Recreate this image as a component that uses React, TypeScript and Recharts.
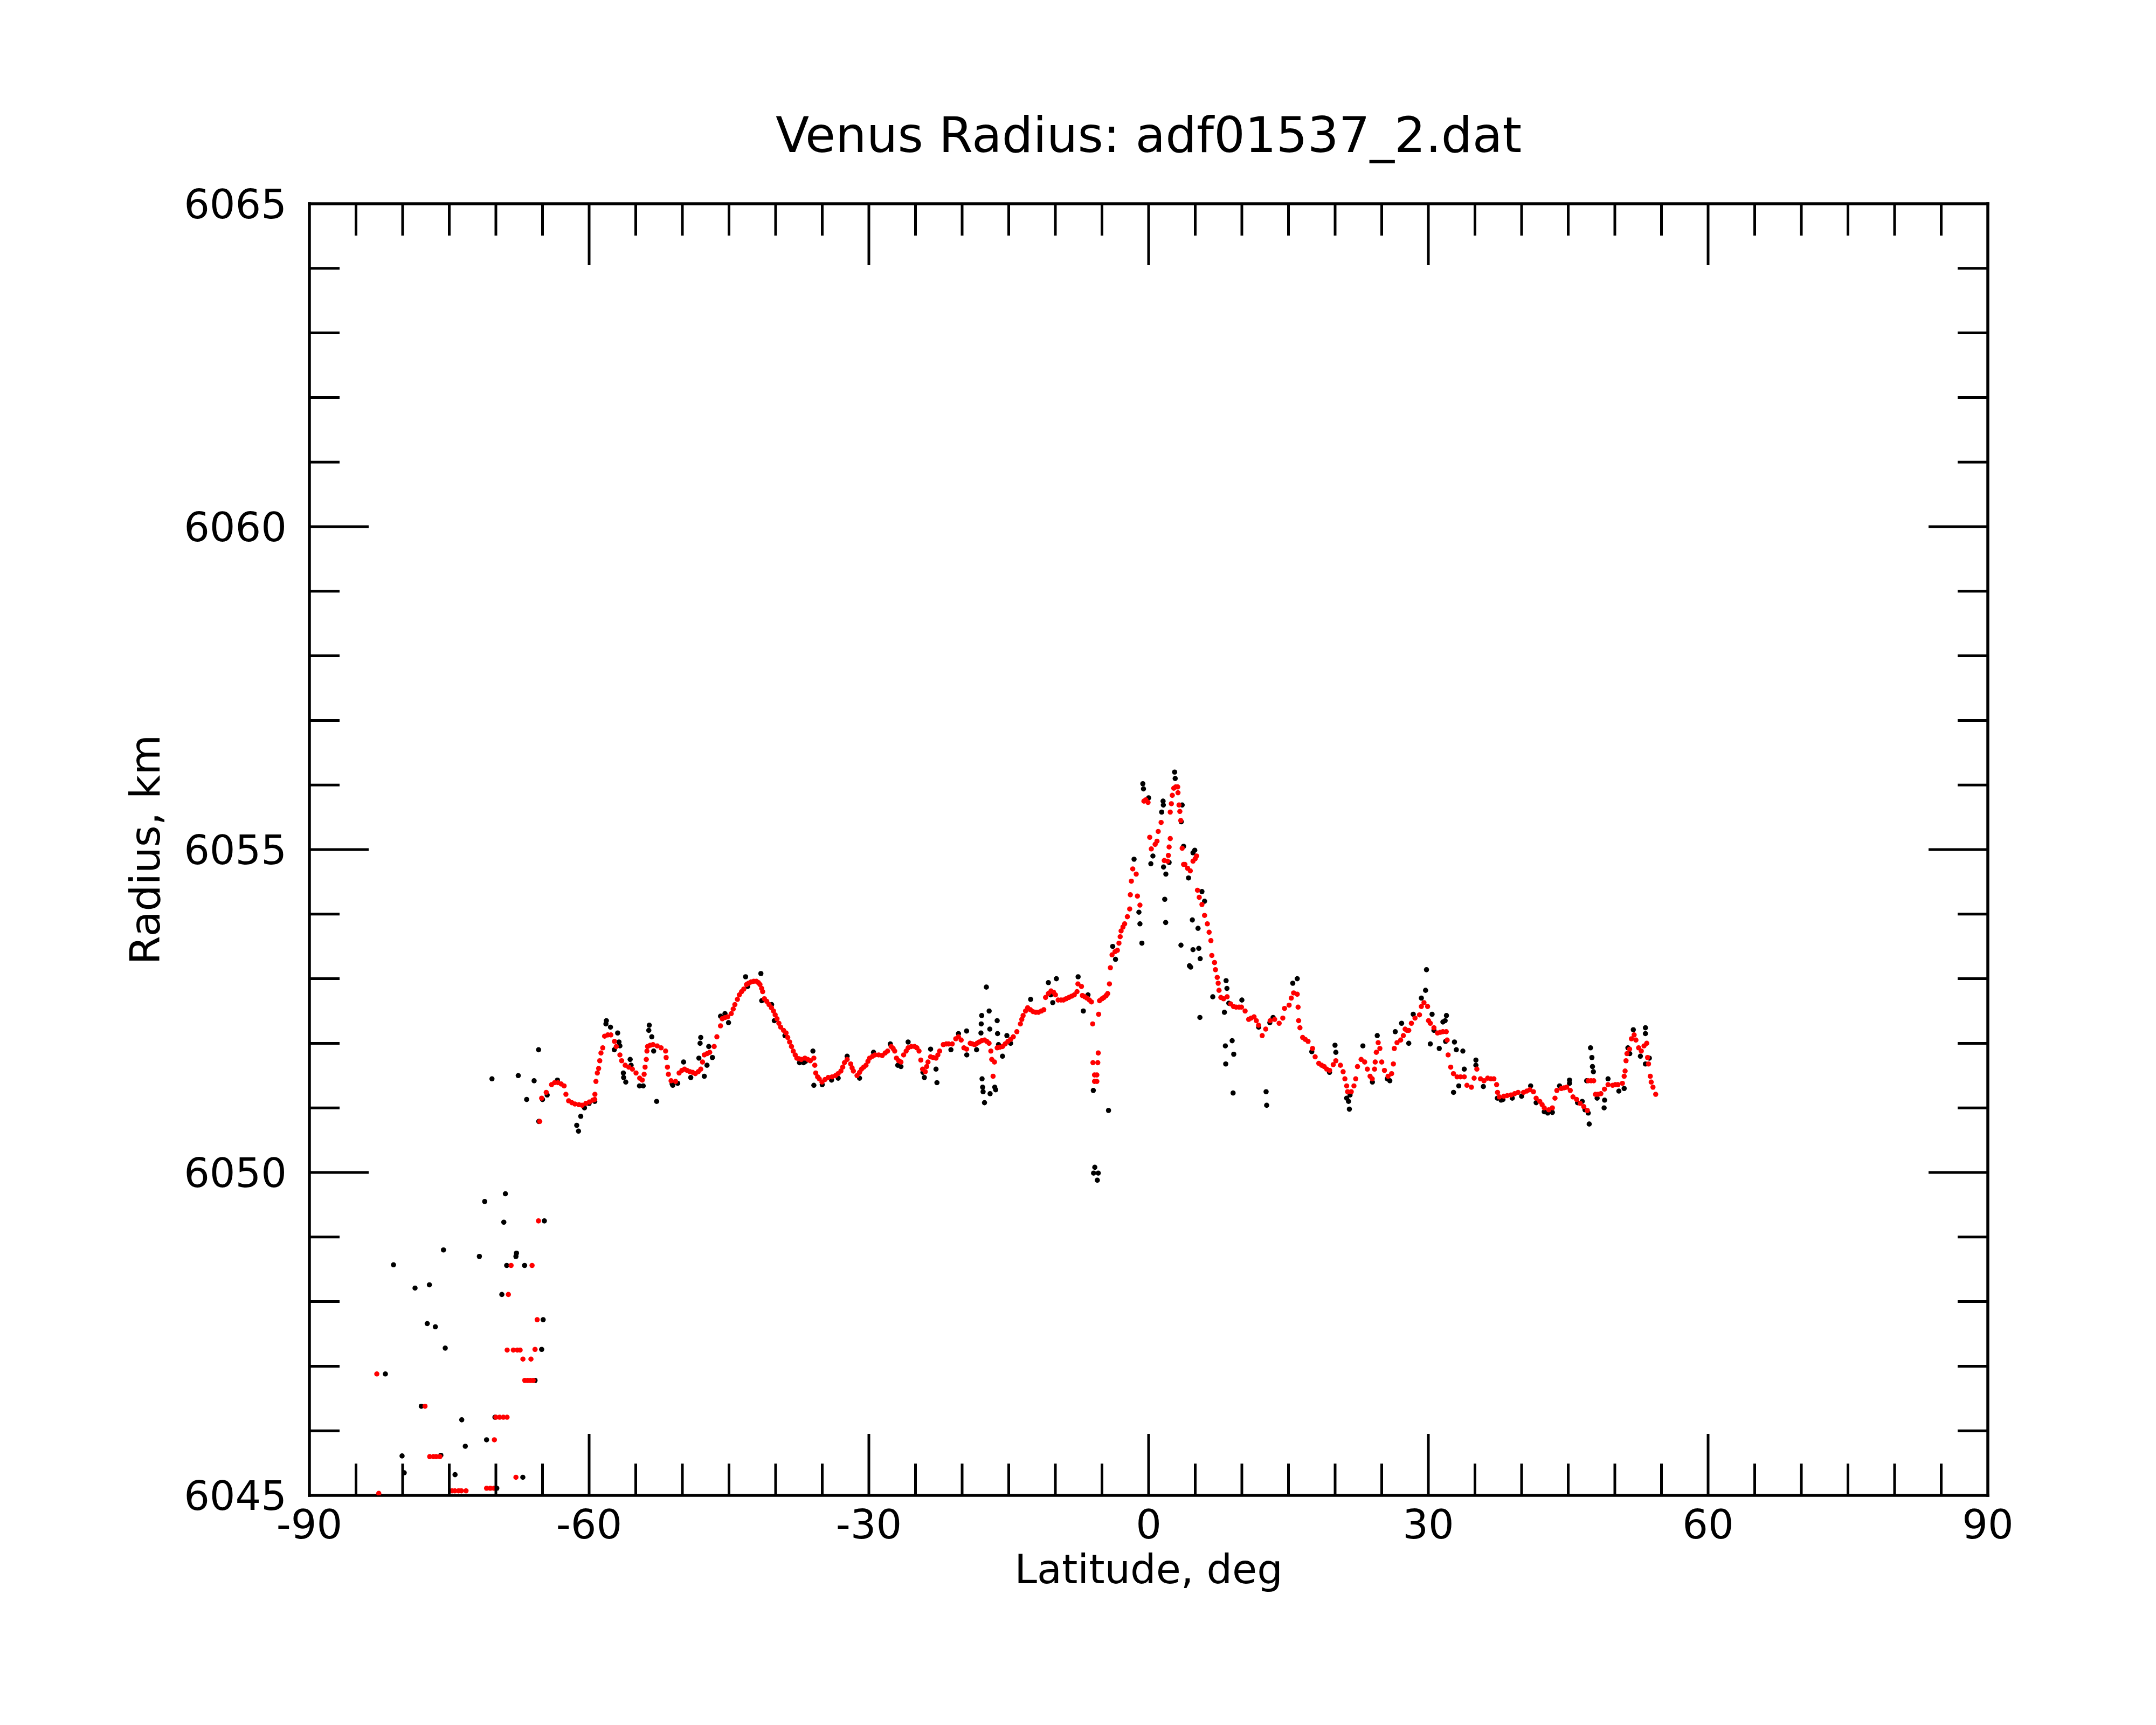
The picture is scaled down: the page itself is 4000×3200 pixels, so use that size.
import React from "react";
import { ScatterChart, Scatter, XAxis, YAxis } from "recharts";

// latitude, radius pairs
const rawPoints: [number, number][] = [
  [-81.85, 6046.88], [-80.98, 6048.57], [-80.06, 6045.61], [-79.83, 6045.35],
  [-78.67, 6048.21], [-78.0, 6046.38], [-77.36, 6047.66], [-77.13, 6048.26],
  [-76.49, 6047.61], [-75.9, 6045.62], [-75.62, 6048.8], [-75.43, 6047.28],
  [-74.38, 6045.32], [-73.66, 6046.17], [-73.28, 6045.76], [-71.77, 6048.7],
  [-71.2, 6049.55], [-71.0, 6045.86], [-70.42, 6051.45], [-70.1, 6046.21],
  [-69.9, 6045.11], [-69.36, 6048.11], [-69.15, 6049.23], [-68.98, 6049.67],
  [-68.84, 6048.56], [-67.85, 6048.7], [-67.79, 6048.75], [-67.6, 6051.5],
  [-67.11, 6045.28], [-66.92, 6048.56], [-66.7, 6051.13], [-65.9, 6051.42],
  [-65.8, 6046.78], [-65.42, 6051.9], [-65.4, 6050.79], [-65.09, 6047.26],
  [-64.93, 6047.72], [-64.8, 6049.25],
  [-65.0, 6051.13], [-64.5, 6051.2], [-63.4, 6051.43], [-61.33, 6050.73],
  [-61.14, 6050.64], [-60.9, 6050.87], [-60.5, 6051.0], [-60.0, 6051.07],
  [-59.4, 6051.1], [-58.2, 6052.3], [-58.15, 6052.35], [-57.71, 6052.25],
  [-57.3, 6051.9], [-56.94, 6052.16], [-56.8, 6052.02], [-56.7, 6051.96],
  [-56.33, 6051.54], [-56.3, 6051.47], [-56.07, 6051.4], [-55.6, 6051.75],
  [-55.5, 6051.66], [-54.6, 6051.34], [-54.2, 6051.34], [-53.6, 6052.2],
  [-53.55, 6052.28], [-53.28, 6052.1], [-53.08, 6051.88], [-52.76, 6051.1],
  [-51.1, 6051.37], [-51.03, 6051.35], [-50.5, 6051.38], [-49.87, 6051.71],
  [-49.1, 6051.47], [-48.23, 6051.77], [-48.1, 6052.0], [-48.03, 6052.09],
  [-47.65, 6051.49], [-47.36, 6051.66], [-47.17, 6051.95], [-46.78, 6051.78],
  [-45.91, 6052.42], [-45.43, 6052.46], [-45.05, 6052.32], [-43.22, 6053.03],
  [-43.0, 6052.88], [-41.58, 6053.08], [-41.49, 6052.66], [-40.43, 6052.6],
  [-40.14, 6052.35], [-39.0, 6052.12], [-37.44, 6051.7], [-37.0, 6051.7],
  [-36.8, 6051.72], [-36.0, 6051.88], [-35.9, 6051.35], [-35.0, 6051.36],
  [-34.0, 6051.43], [-33.29, 6051.46], [-32.33, 6051.8], [-31.0, 6051.46],
  [-29.5, 6051.86], [-27.7, 6051.99], [-26.9, 6051.66], [-26.56, 6051.64],
  [-25.79, 6052.02], [-24.2, 6051.55], [-24.05, 6051.47], [-23.38, 6051.91],
  [-22.8, 6051.6], [-22.7, 6051.39], [-21.2, 6051.9], [-20.39, 6052.15],
  [-19.52, 6052.19], [-19.5, 6051.82], [-18.45, 6051.9], [-17.98, 6052.16],
  [-17.95, 6052.3], [-17.9, 6052.43], [-17.86, 6051.45], [-17.8, 6051.32],
  [-17.75, 6051.25], [-17.6, 6051.08], [-17.4, 6052.87], [-17.1, 6052.5],
  [-17.03, 6052.22], [-17.0, 6051.22], [-16.5, 6051.32], [-16.4, 6051.28],
  [-16.24, 6052.35], [-16.2, 6052.15], [-16.1, 6051.98], [-15.67, 6051.8],
  [-15.2, 6052.12], [-14.8, 6052.0], [-12.65, 6052.68], [-10.75, 6052.94],
  [-10.5, 6052.75], [-10.28, 6052.63], [-9.89, 6053.0], [-7.56, 6053.03],
  [-7.0, 6052.5], [-6.5, 6052.75], [-5.93, 6051.27], [-5.9, 6049.99],
  [-5.77, 6050.08], [-5.5, 6049.88], [-5.4, 6049.99], [-4.3, 6050.96],
  [-3.85, 6053.5], [-3.55, 6053.3], [-1.56, 6054.85], [-1.04, 6054.03],
  [-0.93, 6053.85], [-0.72, 6053.55], [-0.62, 6056.02], [-0.55, 6055.94],
  [0.0, 6055.8], [0.24, 6054.78], [0.46, 6054.9], [1.4, 6055.58],
  [1.55, 6055.75], [1.58, 6055.69], [1.6, 6054.73], [1.73, 6054.23],
  [1.83, 6053.87], [1.85, 6054.62], [2.2, 6054.8], [2.79, 6056.2],
  [2.85, 6056.1], [3.47, 6053.52], [3.5, 6055.43], [3.6, 6055.69],
  [3.75, 6055.05], [4.28, 6054.56], [4.38, 6053.2], [4.51, 6053.18],
  [4.69, 6053.91], [4.76, 6053.45], [4.76, 6054.95], [4.95, 6054.99],
  [5.3, 6053.78], [5.38, 6053.47], [5.5, 6052.4], [5.53, 6053.31],
  [5.72, 6054.35], [6.0, 6054.2], [6.88, 6052.72], [8.13, 6052.48],
  [8.23, 6051.96], [8.27, 6051.68], [8.31, 6052.97], [8.4, 6052.85],
  [8.6, 6052.62], [8.96, 6052.04], [9.06, 6051.23], [9.13, 6051.83],
  [10.0, 6052.67], [11.8, 6052.25], [12.6, 6051.25], [12.66, 6051.04],
  [13.0, 6052.32], [13.35, 6052.4], [15.46, 6052.93], [15.94, 6053.0],
  [17.5, 6051.87], [19.4, 6051.55], [19.99, 6051.97], [20.08, 6051.86],
  [21.24, 6051.15], [21.44, 6051.1], [21.53, 6050.98], [21.6, 6051.2],
  [22.98, 6051.96], [24.0, 6051.4], [24.52, 6052.12], [25.6, 6051.45],
  [25.87, 6051.42], [26.45, 6052.18], [27.13, 6052.31], [27.9, 6052.0],
  [28.38, 6052.45], [29.25, 6052.7], [29.7, 6052.82], [29.8, 6053.14],
  [30.21, 6051.99], [30.4, 6052.45], [30.6, 6052.2], [31.17, 6051.92],
  [31.56, 6052.33], [31.8, 6052.35], [31.85, 6052.03], [31.94, 6052.43],
  [32.7, 6051.24], [32.8, 6052.02], [33.0, 6051.9], [33.26, 6051.34],
  [33.7, 6051.88], [33.85, 6051.6], [35.1, 6051.74], [35.1, 6051.66],
  [35.9, 6051.33], [37.4, 6051.15], [37.8, 6051.12], [38.0, 6051.13],
  [39.0, 6051.15], [40.0, 6051.18], [40.97, 6051.34], [41.56, 6051.08],
  [42.43, 6050.94], [42.8, 6050.92], [43.3, 6050.93], [44.07, 6051.34],
  [45.14, 6051.43], [45.14, 6051.38], [46.0, 6051.08], [46.5, 6051.1],
  [46.8, 6050.97], [46.98, 6051.42], [47.15, 6050.92], [47.25, 6050.75],
  [47.39, 6051.93], [47.54, 6051.78], [47.6, 6051.64], [47.7, 6051.56],
  [48.1, 6051.15], [48.85, 6051.0], [48.9, 6051.12], [49.27, 6051.45],
  [50.43, 6051.26], [51.0, 6051.3], [51.4, 6051.93], [51.6, 6051.84],
  [51.98, 6052.21], [52.74, 6051.8], [53.28, 6052.24], [53.28, 6052.15],
  [53.28, 6051.68], [53.7, 6051.77],
];

const smoothedPoints: [number, number][] = [
  [-82.77, 6046.88], [-82.56, 6045.03], [-77.6, 6046.38], [-77.1, 6045.6],
  [-76.7, 6045.6], [-76.4, 6045.6], [-76.0, 6045.6], [-74.7, 6045.07],
  [-74.4, 6045.07], [-74.0, 6045.07], [-73.7, 6045.07], [-73.2, 6045.07],
  [-71.0, 6045.11], [-70.6, 6045.11], [-70.2, 6045.11], [-70.16, 6045.86],
  [-70.0, 6046.21], [-69.6, 6046.21], [-69.2, 6046.21], [-68.8, 6046.21],
  [-68.79, 6047.25], [-68.66, 6048.11], [-68.37, 6048.56], [-68.13, 6047.25],
  [-67.85, 6045.28], [-67.7, 6047.25], [-67.4, 6047.25], [-67.1, 6047.11],
  [-66.9, 6046.78], [-66.6, 6046.78], [-66.3, 6046.78], [-66.24, 6047.11],
  [-66.12, 6048.56], [-66.0, 6046.78], [-65.8, 6047.26], [-65.57, 6047.72],
  [-65.43, 6049.25], [-65.3, 6050.79],
  [-65.09, 6051.15], [-64.6, 6051.24], [-64.03, 6051.36], [-63.7, 6051.39],
  [-63.35, 6051.39], [-63.0, 6051.37], [-62.68, 6051.34], [-62.49, 6051.21],
  [-62.2, 6051.11], [-61.85, 6051.08], [-61.52, 6051.06], [-61.1, 6051.05],
  [-60.75, 6051.04], [-60.35, 6051.07], [-59.98, 6051.09], [-59.6, 6051.12],
  [-59.4, 6051.13], [-59.38, 6051.21], [-59.27, 6051.41], [-59.12, 6051.54],
  [-58.98, 6051.61], [-58.86, 6051.73], [-58.73, 6051.85], [-58.54, 6051.93],
  [-58.34, 6052.11], [-58.0, 6052.13], [-57.67, 6052.13], [-57.28, 6052.03],
  [-57.09, 6051.95], [-56.7, 6051.82], [-56.51, 6051.73], [-56.13, 6051.66],
  [-55.75, 6051.63], [-55.36, 6051.6], [-54.97, 6051.54], [-54.58, 6051.46],
  [-54.3, 6051.43], [-54.1, 6051.52], [-54.0, 6051.63], [-53.87, 6051.75],
  [-53.8, 6051.88], [-53.73, 6051.95], [-53.45, 6051.97], [-53.15, 6051.98],
  [-52.7, 6051.96], [-52.28, 6051.93], [-51.8, 6051.88], [-51.74, 6051.78],
  [-51.6, 6051.63], [-51.5, 6051.52], [-51.21, 6051.42], [-50.73, 6051.41],
  [-50.35, 6051.54], [-50.05, 6051.58], [-49.77, 6051.6], [-49.5, 6051.58],
  [-49.19, 6051.56], [-48.9, 6051.55], [-48.61, 6051.53], [-48.3, 6051.56],
  [-48.03, 6051.6], [-47.84, 6051.71], [-47.65, 6051.82], [-47.35, 6051.84],
  [-47.07, 6051.86], [-46.59, 6051.95], [-46.3, 6052.1], [-45.91, 6052.27],
  [-45.72, 6052.38], [-45.4, 6052.4], [-45.14, 6052.41], [-44.76, 6052.46],
  [-44.55, 6052.53], [-44.37, 6052.6], [-44.1, 6052.68], [-43.89, 6052.75],
  [-43.65, 6052.8], [-43.41, 6052.84], [-43.12, 6052.91], [-42.9, 6052.93],
  [-42.64, 6052.95], [-42.35, 6052.96], [-42.06, 6052.96], [-41.85, 6052.94],
  [-41.68, 6052.91], [-41.5, 6052.85], [-41.39, 6052.8], [-41.2, 6052.69],
  [-40.95, 6052.65], [-40.71, 6052.6], [-40.45, 6052.55], [-40.23, 6052.5],
  [-40.05, 6052.44], [-39.85, 6052.38], [-39.65, 6052.31], [-39.46, 6052.25],
  [-39.15, 6052.2], [-38.88, 6052.16], [-38.7, 6052.09], [-38.5, 6052.02],
  [-38.3, 6051.95], [-38.11, 6051.88], [-37.9, 6051.82], [-37.73, 6051.77],
  [-37.5, 6051.76], [-37.25, 6051.75], [-36.86, 6051.77], [-36.55, 6051.75],
  [-36.28, 6051.73], [-35.9, 6051.77], [-35.8, 6051.66], [-35.7, 6051.54],
  [-35.5, 6051.48], [-35.32, 6051.45], [-35.03, 6051.4], [-34.7, 6051.44],
  [-34.36, 6051.47], [-33.95, 6051.48], [-33.58, 6051.5], [-33.3, 6051.53],
  [-33.0, 6051.57], [-32.8, 6051.63], [-32.62, 6051.7], [-32.33, 6051.75],
  [-31.95, 6051.68], [-31.8, 6051.62], [-31.66, 6051.57], [-31.27, 6051.5],
  [-31.0, 6051.55], [-30.79, 6051.6], [-30.55, 6051.63], [-30.31, 6051.66],
  [-30.1, 6051.72], [-29.92, 6051.77], [-29.6, 6051.8], [-29.34, 6051.82],
  [-28.95, 6051.82], [-28.57, 6051.81], [-28.25, 6051.85], [-27.99, 6051.88],
  [-27.61, 6051.95], [-27.4, 6051.92], [-27.23, 6051.88], [-27.04, 6051.77],
  [-26.8, 6051.73], [-26.56, 6051.71], [-26.27, 6051.82], [-26.0, 6051.88],
  [-25.79, 6051.93], [-25.45, 6051.95], [-25.1, 6051.95], [-24.85, 6051.93],
  [-24.62, 6051.88], [-24.43, 6051.74], [-24.24, 6051.6], [-23.95, 6051.56],
  [-23.8, 6051.64], [-23.66, 6051.71], [-23.38, 6051.79], [-23.1, 6051.78],
  [-22.8, 6051.77], [-22.6, 6051.82], [-22.41, 6051.88], [-22.02, 6051.98],
  [-21.7, 6051.99], [-21.45, 6051.99], [-21.06, 6051.99], [-20.68, 6052.07],
  [-20.39, 6052.1], [-20.1, 6052.05], [-19.81, 6051.93], [-19.52, 6051.91],
  [-19.13, 6052.0], [-18.9, 6051.99], [-18.65, 6051.98], [-18.4, 6052.0],
  [-18.17, 6052.02], [-17.9, 6052.04], [-17.59, 6052.05], [-17.35, 6052.03],
  [-17.11, 6052.0], [-16.92, 6051.88], [-16.82, 6051.75], [-16.68, 6051.49],
  [-16.53, 6051.71], [-16.24, 6051.93], [-15.95, 6051.94], [-15.67, 6051.95],
  [-15.38, 6051.99], [-15.09, 6052.03], [-14.8, 6052.06], [-14.51, 6052.1],
  [-14.13, 6052.18], [-13.75, 6052.3], [-13.6, 6052.37], [-13.46, 6052.43],
  [-13.2, 6052.5], [-12.97, 6052.55], [-12.68, 6052.52], [-12.39, 6052.49],
  [-12.1, 6052.48], [-11.81, 6052.48], [-11.5, 6052.5], [-11.24, 6052.52],
  [-11.05, 6052.71], [-10.75, 6052.77], [-10.47, 6052.81], [-10.2, 6052.79],
  [-9.99, 6052.75], [-9.7, 6052.67], [-9.4, 6052.67], [-9.13, 6052.67],
  [-8.85, 6052.69], [-8.55, 6052.71], [-8.25, 6052.73], [-7.97, 6052.75],
  [-7.68, 6052.8], [-7.58, 6052.92], [-7.2, 6052.88], [-7.1, 6052.74],
  [-6.85, 6052.72], [-6.62, 6052.7], [-6.35, 6052.67], [-6.13, 6052.64],
  [-6.0, 6052.3], [-5.97, 6051.7], [-5.8, 6051.51], [-5.8, 6051.41],
  [-5.55, 6051.51], [-5.55, 6051.41], [-5.45, 6051.7], [-5.4, 6051.85],
  [-5.36, 6052.45], [-5.26, 6052.66], [-5.0, 6052.69], [-4.78, 6052.71],
  [-4.55, 6052.74], [-4.39, 6052.77], [-4.2, 6052.92], [-4.1, 6053.17],
  [-3.92, 6053.37], [-3.6, 6053.42], [-3.35, 6053.44], [-3.18, 6053.55],
  [-3.05, 6053.65], [-2.95, 6053.74], [-2.75, 6053.8], [-2.57, 6053.85],
  [-2.28, 6053.96], [-2.03, 6054.08], [-1.96, 6054.3], [-1.85, 6054.51],
  [-1.7, 6054.7], [-1.33, 6054.62], [-1.2, 6054.28], [-0.93, 6054.14],
  [-0.5, 6055.75], [-0.3, 6055.77], [-0.06, 6055.73], [0.12, 6055.19],
  [0.29, 6055.01], [0.7, 6055.08], [0.9, 6055.13], [1.03, 6055.28],
  [1.34, 6055.42], [1.68, 6054.83], [2.03, 6054.82], [2.12, 6054.91],
  [2.2, 6055.04], [2.32, 6055.17], [2.32, 6055.58], [2.44, 6055.71],
  [2.54, 6055.84], [2.7, 6055.95], [2.9, 6055.97], [3.12, 6055.97],
  [3.15, 6055.88], [3.26, 6055.69], [3.35, 6055.59], [3.45, 6055.45],
  [3.6, 6055.02], [3.75, 6054.77], [3.89, 6054.77], [4.18, 6054.71],
  [4.47, 6054.67], [4.76, 6054.82], [5.0, 6054.86], [5.14, 6054.9],
  [5.24, 6054.37], [5.43, 6054.26], [5.72, 6054.15], [6.0, 6053.98],
  [6.3, 6053.85], [6.49, 6053.72], [6.68, 6053.59], [6.78, 6053.36],
  [7.07, 6053.25], [7.17, 6053.14], [7.36, 6053.02], [7.46, 6052.93],
  [7.55, 6052.82], [7.75, 6052.71], [8.04, 6052.69], [8.42, 6052.72],
  [8.8, 6052.61], [9.1, 6052.57], [9.38, 6052.56], [9.7, 6052.56],
  [9.96, 6052.56], [10.35, 6052.5], [10.73, 6052.37], [11.0, 6052.39],
  [11.31, 6052.41], [11.55, 6052.35], [11.79, 6052.28], [12.18, 6052.12],
  [12.56, 6052.22], [13.04, 6052.35], [13.52, 6052.37], [14.0, 6052.31],
  [14.39, 6052.39], [14.58, 6052.54], [15.07, 6052.59], [15.3, 6052.7],
  [15.55, 6052.78], [15.94, 6052.76], [16.03, 6052.56], [16.09, 6052.35],
  [16.23, 6052.24], [16.52, 6052.09], [16.8, 6052.06], [17.1, 6052.03],
  [17.58, 6051.92], [17.86, 6051.79], [18.25, 6051.69], [18.55, 6051.66],
  [18.83, 6051.64], [19.1, 6051.6], [19.41, 6051.58], [19.8, 6051.67],
  [20.08, 6051.73], [20.57, 6051.66], [20.86, 6051.56], [21.05, 6051.45],
  [21.24, 6051.34], [21.34, 6051.25], [21.73, 6051.25], [22.02, 6051.34],
  [22.21, 6051.45], [22.4, 6051.64], [22.79, 6051.75], [23.17, 6051.71],
  [23.46, 6051.6], [23.75, 6051.49], [23.98, 6051.45], [24.23, 6051.6],
  [24.3, 6051.71], [24.42, 6051.86], [24.62, 6052.01], [24.8, 6051.92],
  [25.0, 6051.71], [25.29, 6051.58], [25.68, 6051.49], [26.06, 6051.53],
  [26.25, 6051.68], [26.35, 6051.92], [26.64, 6052.01], [27.03, 6052.05],
  [27.32, 6052.12], [27.51, 6052.22], [27.7, 6052.2], [27.9, 6052.2],
  [28.18, 6052.31], [28.57, 6052.39], [29.05, 6052.44], [29.25, 6052.57],
  [29.53, 6052.63], [29.92, 6052.57], [30.02, 6052.35], [30.21, 6052.31],
  [30.6, 6052.24], [30.98, 6052.16], [31.27, 6052.17], [31.56, 6052.18],
  [31.92, 6052.18], [32.02, 6052.05], [32.12, 6051.82], [32.4, 6051.63],
  [32.69, 6051.53], [33.08, 6051.48], [33.45, 6051.48], [33.85, 6051.48],
  [34.14, 6051.35], [34.62, 6051.32], [34.91, 6051.46], [35.2, 6051.6],
  [35.59, 6051.45], [35.97, 6051.42], [36.36, 6051.46], [36.7, 6051.45],
  [37.03, 6051.45], [37.32, 6051.36], [37.42, 6051.24], [37.61, 6051.17],
  [38.09, 6051.18], [38.45, 6051.19], [38.86, 6051.2], [39.25, 6051.22],
  [39.63, 6051.24], [40.21, 6051.24], [40.55, 6051.26], [40.88, 6051.28],
  [41.27, 6051.25], [41.56, 6051.15], [41.95, 6051.1], [42.2, 6051.05],
  [42.43, 6051.0], [42.91, 6050.97], [43.3, 6051.0], [43.58, 6051.15],
  [43.78, 6051.27], [44.26, 6051.3], [44.55, 6051.31], [44.84, 6051.32],
  [45.22, 6051.27], [45.51, 6051.17], [45.9, 6051.13], [46.28, 6051.07],
  [46.67, 6051.02], [47.05, 6050.96], [47.15, 6051.42], [47.45, 6051.42],
  [47.73, 6051.42], [47.92, 6051.21], [48.2, 6051.21], [48.5, 6051.22],
  [48.89, 6051.29], [49.27, 6051.36], [49.76, 6051.35], [50.05, 6051.36],
  [50.33, 6051.36], [50.81, 6051.38], [51.0, 6051.49], [51.1, 6051.57],
  [51.2, 6051.73], [51.3, 6051.84], [51.58, 6051.91], [51.78, 6052.07],
  [52.07, 6052.13], [52.26, 6052.05], [52.55, 6051.93], [52.84, 6051.88],
  [53.13, 6051.96], [53.42, 6052.0], [53.51, 6051.78], [53.61, 6051.68],
  [53.8, 6051.49], [53.9, 6051.4], [54.09, 6051.32], [54.38, 6051.21],
];

const latTicks = [
  -90, -85, -80, -75, -70, -65, -60, -55, -50, -45, -40, -35, -30, -25, -20, -15, -10, -5,
  0, 5, 10, 15, 20, 25, 30, 35, 40, 45, 50, 55, 60, 65, 70, 75, 80, 85, 90,
];
const latLabels = [-90, -60, -30, 0, 30, 60, 90];
const radiusTicks = [
  6045, 6046, 6047, 6048, 6049, 6050, 6051, 6052, 6053, 6054, 6055,
  6056, 6057, 6058, 6059, 6060, 6061, 6062, 6063, 6064, 6065,
];
const radiusLabels = [6045, 6050, 6055, 6060, 6065];

const FONT = "DejaVu Sans";

const rawData = rawPoints.map(([lat, radius]) => ({ lat, radius }));
const smoothData = smoothedPoints.map(([lat, radius]) => ({ lat, radius }));

// inward ticks on every side of the frame, labels only bottom and left
const FrameTick = (props: any) => {
  const { x, y, payload, side } = props;
  const v = payload.value;
  const horizontal = side === "top" || side === "bottom";
  const major = horizontal ? latLabels.includes(v) : radiusLabels.includes(v);
  const len = horizontal ? (major ? 114 : 59) : major ? 110 : 56;
  const onEdge = horizontal ? v === -90 || v === 90 : v === 6045 || v === 6065;
  let line = null;
  if (!onEdge) {
    if (side === "bottom") line = <line x1={x} y1={y} x2={x} y2={y - len} />;
    if (side === "top") line = <line x1={x} y1={y} x2={x} y2={y + len} />;
    if (side === "left") line = <line x1={x} y1={y} x2={x + len} y2={y} />;
    if (side === "right") line = <line x1={x} y1={y} x2={x - len} y2={y} />;
  }
  let label = null;
  if (major && side === "bottom") {
    label = (
      <text x={x} y={y + 80} textAnchor="middle" fontSize={75} fontFamily={FONT} fill="#000">
        {v}
      </text>
    );
  }
  if (major && side === "left") {
    label = (
      <text x={x - 42} y={y + 27} textAnchor="end" fontSize={75} fontFamily={FONT} fill="#000">
        {v}
      </text>
    );
  }
  return (
    <g>
      {line && React.cloneElement(line, { stroke: "#000", strokeWidth: 5 })}
      {label}
    </g>
  );
};

const dot = (color: string) => (p: any) =>
  <circle cx={p.cx} cy={p.cy} r={4.8} fill={color} />;

const frameLine = { stroke: "#000", strokeWidth: 5.5, strokeLinecap: "square" as const };

export default function App() {
  return (
    <div style={{ position: "absolute", left: 0, top: 0, width: 4000, height: 3200, background: "#fff" }}>
      <ScatterChart
        width={4000}
        height={3200}
        margin={{ top: 377, right: 311, bottom: 425, left: 573 }}
      >
        <XAxis
          type="number"
          dataKey="lat"
          domain={[-90, 90]}
          ticks={latTicks}
          interval={0}
          allowDataOverflow
          height={1}
          tickSize={0}
          tickMargin={0}
          tickLine={false}
          axisLine={frameLine}
          tick={<FrameTick side="bottom" />}
          label={{
            content: (p: any) => (
              <text
                x={p.viewBox.x + p.viewBox.width / 2}
                y={p.viewBox.y + 163}
                textAnchor="middle"
                fontSize={75}
                fontFamily={FONT}
                fill="#000"
              >
                Latitude, deg
              </text>
            ),
          }}
        />
        <XAxis
          xAxisId="top"
          orientation="top"
          type="number"
          dataKey="lat"
          domain={[-90, 90]}
          ticks={latTicks}
          interval={0}
          allowDataOverflow
          height={1}
          tickSize={0}
          tickMargin={0}
          tickLine={false}
          axisLine={frameLine}
          tick={<FrameTick side="top" />}
          label={{
            content: (p: any) => (
              <text
                x={p.viewBox.x + p.viewBox.width / 2}
                y={p.viewBox.y - 95}
                textAnchor="middle"
                fontSize={91}
                fontFamily={FONT}
                fill="#000"
              >
                Venus Radius: adf01537_2.dat
              </text>
            ),
          }}
        />
        <YAxis
          type="number"
          dataKey="radius"
          domain={[6045, 6065]}
          ticks={radiusTicks}
          interval={0}
          allowDataOverflow
          width={1}
          tickSize={0}
          tickMargin={0}
          tickLine={false}
          axisLine={frameLine}
          tick={<FrameTick side="left" />}
          label={{
            content: (p: any) => {
              const cx = 296;
              const cy = p.viewBox.y + p.viewBox.height / 2;
              return (
                <text
                  x={cx}
                  y={cy}
                  transform={`rotate(-90 ${cx} ${cy})`}
                  textAnchor="middle"
                  fontSize={77}
                  fontFamily={FONT}
                  fill="#000"
                >
                  Radius, km
                </text>
              );
            },
          }}
        />
        <YAxis
          yAxisId="right"
          orientation="right"
          type="number"
          dataKey="radius"
          domain={[6045, 6065]}
          ticks={radiusTicks}
          interval={0}
          allowDataOverflow
          width={1}
          tickSize={0}
          tickMargin={0}
          tickLine={false}
          axisLine={frameLine}
          tick={<FrameTick side="right" />}
        />
        <Scatter data={rawData} shape={dot("#000")} isAnimationActive={false} />
        <Scatter data={smoothData} shape={dot("#ff0000")} isAnimationActive={false} />
      </ScatterChart>
    </div>
  );
}
